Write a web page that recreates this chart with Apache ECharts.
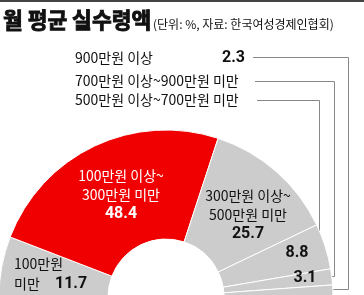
<!DOCTYPE html>
<html>
<head>
<meta charset="utf-8">
<script src="https://cdn.jsdelivr.net/npm/echarts@6/dist/echarts.min.js"></script>
<style>html,body{margin:0;padding:0;background:#fff}#c{width:364px;height:295px}</style>
</head>
<body>
<div id="c"></div>
<script>
const categories = ['100만원 미만', '100만원 이상~300만원 미만', '300만원 이상~500만원 미만', '500만원 이상~700만원 미만', '700만원 이상~900만원 미만', '900만원 이상'];
const values = [11.7, 48.4, 25.7, 8.8, 3.1, 2.3];
const title = '월 평균 실수령액';
const subtitle = '(단위: %, 자료: 한국여성경제인협회)';

const FONT = '"Noto Sans CJK KR", "Noto Sans", sans-serif';
const NUMFONT = 'Roboto, "Noto Sans", sans-serif';
const RED = '#f00000', GRAY = '#cccccc';
const sliceColors = [GRAY, RED, GRAY, GRAY, GRAY, GRAY];

// label placement (layout only)
const labelPlace = [
  {x: 14, y: 274, align: 'left'},
  {x: 121, y: 195, align: 'center'},
  {x: 248, y: 215, align: 'center'},
  {x: 297, y: 253, align: 'center'},
  {x: 305, y: 278, align: 'center'},
  {x: 245, y: 58, align: 'right'}
];

function labelText(i) {
  const name = categories[i], v = values[i].toFixed(1);
  if (i === 0) {
    const parts = name.split(' ');
    return '{n|' + parts[0] + '}\n{m|' + parts[1] + '}{v|' + v + '}';
  }
  if (i === 1 || i === 2) {
    const parts = name.split('~');
    return '{n|' + parts[0] + '~}\n{n|' + parts[1] + '}\n{v|' + v + '}';
  }
  return '{v|' + v + '}';
}

const data = values.map((v, i) => ({
  value: v,
  name: categories[i],
  itemStyle: {color: sliceColors[i]},
  label: {color: i === 1 ? '#fff' : '#111'}
}));

const chart = echarts.init(document.getElementById('c'), null, {renderer: 'canvas'});

const graphics = [
  {type: 'rect', shape: {x: 0, y: 0, width: 364, height: 2}, style: {fill: '#444'}},
  {type: 'text', x: 3, y: 20, style: {text: title, font: 'bold 21.5px ' + FONT, fill: '#111', stroke: '#111', lineWidth: 0.9, verticalAlign: 'middle'}},
  {type: 'text', x: 153, y: 24, style: {text: subtitle, font: '12px ' + FONT, fill: '#111', verticalAlign: 'middle'}},
  {type: 'text', x: 75, y: 58, style: {text: categories[5], font: '14px ' + FONT, fill: '#111', verticalAlign: 'middle'}},
  {type: 'text', x: 75, y: 81, style: {text: categories[4], font: '14px ' + FONT, fill: '#111', verticalAlign: 'middle'}},
  {type: 'text', x: 75, y: 100, style: {text: categories[3], font: '14px ' + FONT, fill: '#111', verticalAlign: 'middle'}},
  {type: 'polyline', shape: {points: [[253, 57.5], [348.5, 57.5], [348.5, 289.5], [330, 289.5]]}, style: {stroke: '#888', lineWidth: 1, fill: null}},
  {type: 'polyline', shape: {points: [[255, 81.5], [334.5, 81.5], [334.5, 276.5], [329, 276.5]]}, style: {stroke: '#888', lineWidth: 1, fill: null}},
  {type: 'polyline', shape: {points: [[257, 100.5], [319.5, 100.5], [319.5, 234]]}, style: {stroke: '#888', lineWidth: 1, fill: null}}
];

chart.setOption({
  animation: false,
  backgroundColor: '#fff',
  graphic: graphics,
  series: [{
    type: 'pie',
    center: [166, 297],
    radius: [58, 167],
    startAngle: 180,
    endAngle: 0,
    clockwise: true,
    avoidLabelOverlap: false,
    silent: true,
    itemStyle: {borderColor: '#fff', borderWidth: 1},
    labelLine: {show: false},
    label: {
      show: true,
      position: 'inside',
      fontFamily: FONT,
      formatter: p => labelText(p.dataIndex),
      rich: {
        n: {fontSize: 14, fontFamily: FONT, lineHeight: 19},
        m: {fontSize: 14, fontFamily: FONT, lineHeight: 19, width: 41},
        v: {fontSize: 16, fontFamily: NUMFONT, fontWeight: 'bold', lineHeight: 20}
      }
    },
    labelLayout: p => {
      const lp = labelPlace[p.dataIndex];
      return {x: lp.x, y: lp.y, align: lp.align, verticalAlign: 'middle'};
    },
    data: data
  }]
});
</script>
</body>
</html>
